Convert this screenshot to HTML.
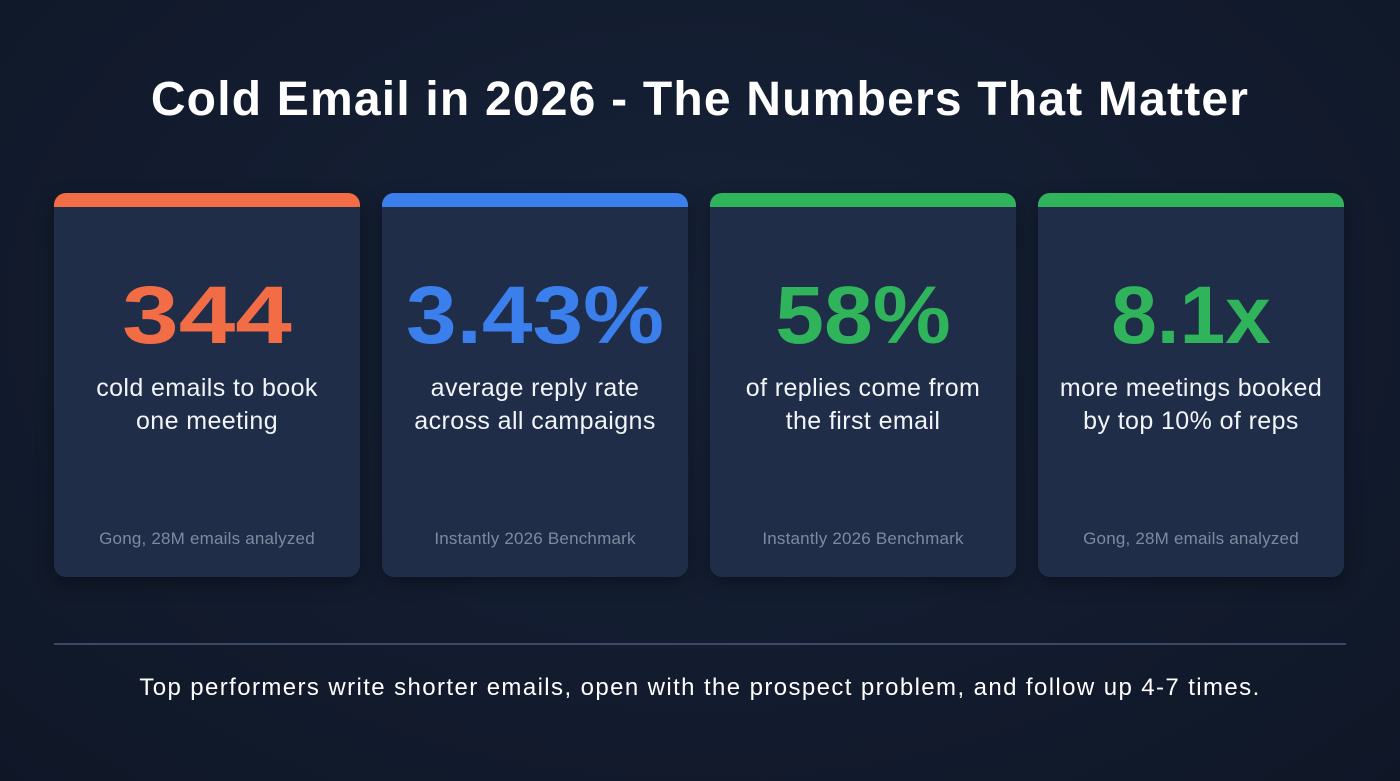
<!DOCTYPE html>
<html><head><meta charset="utf-8"><style>
body{margin:0;width:1400px;height:781px;background:radial-gradient(ellipse at 50% 40%,#172238 0%,#0f1727 100%);font-family:"Liberation Sans",sans-serif;position:relative;overflow:hidden}
h1{position:absolute;top:72px;left:0;width:1400px;text-align:center;margin:0;color:#fff;font-size:48px;font-weight:bold;letter-spacing:1.2px}
.card{position:absolute;top:193px;width:306px;height:384px;background:#1f2d48;border-radius:12px;overflow:hidden;box-shadow:0 6px 18px rgba(0,0,0,.35)}
.bar{height:14px}
.big{position:absolute;top:276px;width:100%;text-align:center;font-size:82px;font-weight:bold;line-height:80px}
.sub{position:absolute;top:372px;width:100%;text-align:center;color:#f1f4f8;font-size:25px;line-height:33px;letter-spacing:0.4px}
.src{position:absolute;top:529px;width:100%;text-align:center;color:#7f8aa0;font-size:17px;letter-spacing:0.2px}
.line{position:absolute;left:54px;top:643px;width:1292px;height:2px;background:#3c4963}
.foot{position:absolute;top:674px;width:1400px;text-align:center;color:#fff;font-size:24px;letter-spacing:1.4px}
</style></head><body>
<h1>Cold Email in 2026 - The Numbers That Matter</h1>
<div class="card" style="left:54px"><div class="bar" style="background:#f26d45"></div></div>
<div class="card" style="left:382px"><div class="bar" style="background:#3b7fec"></div></div>
<div class="card" style="left:710px"><div class="bar" style="background:#2fb35b"></div></div>
<div class="card" style="left:1038px"><div class="bar" style="background:#2fb35b"></div></div>

<div style="position:absolute;left:54px;width:306px;top:0">
<div class="big" style="color:#f26d45;transform:scaleX(1.24)">344</div><div class="sub">cold emails to book<br>one meeting</div><div class="src">Gong, 28M emails analyzed</div></div>
<div style="position:absolute;left:382px;width:306px;top:0">
<div class="big" style="color:#3b7fec;transform:scaleX(1.11)">3.43%</div><div class="sub">average reply rate<br>across all campaigns</div><div class="src">Instantly 2026 Benchmark</div></div>
<div style="position:absolute;left:710px;width:306px;top:0">
<div class="big" style="color:#2fb35b;transform:scaleX(1.07)">58%</div><div class="sub">of replies come from<br>the first email</div><div class="src">Instantly 2026 Benchmark</div></div>
<div style="position:absolute;left:1038px;width:306px;top:0">
<div class="big" style="color:#2fb35b">8.1x</div><div class="sub">more meetings booked<br>by top 10% of reps</div><div class="src">Gong, 28M emails analyzed</div></div>
<div class="line"></div>
<div class="foot">Top performers write shorter emails, open with the prospect problem, and follow up 4-7 times.</div>
</body></html>
